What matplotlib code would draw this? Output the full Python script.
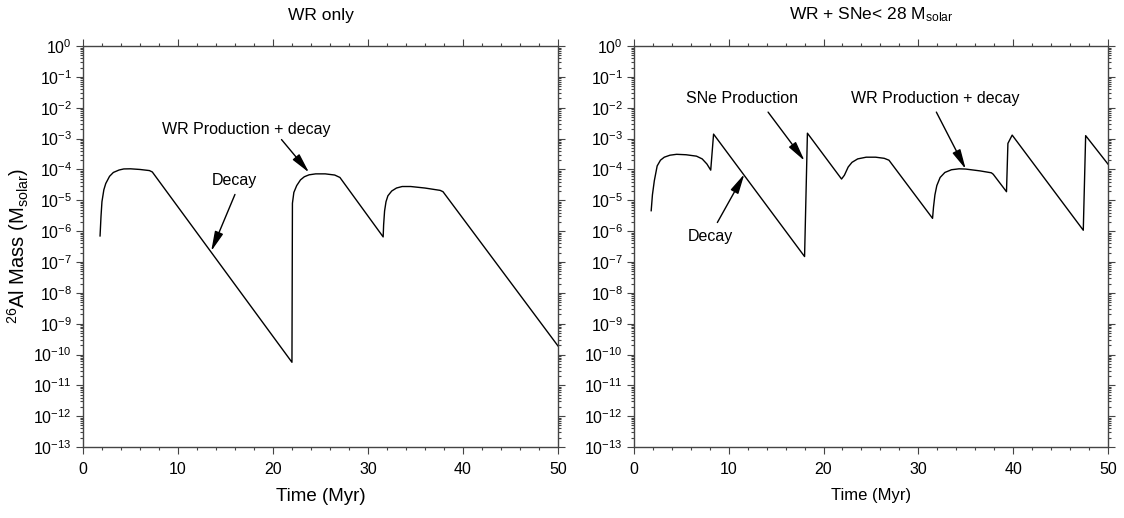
import matplotlib
matplotlib.use("Agg")
import matplotlib.pyplot as plt
from matplotlib.ticker import LogLocator, LogFormatterSciNotation, MultipleLocator, NullFormatter

plt.rcParams['font.family'] = ['Liberation Sans', 'DejaVu Sans']
plt.rcParams['mathtext.default'] = 'regular'

# 26Al mass, Wolf-Rayet winds only
t_wr = [1.8, 1.9, 2.0, 2.2, 2.4, 2.8, 3.2, 3.8, 4.3, 5.0, 6.0, 7.0, 7.3,
        22.0, 22.05, 22.2, 22.5, 22.9, 23.3, 23.8, 24.5, 25.5, 26.5, 27.05,
        31.6, 31.65, 31.75, 31.9, 32.1, 32.5, 33.0, 33.6, 34.5, 36.0, 37.6, 37.9,
        50.0]
m_wr = [7.0e-7, 3.0e-6, 9.0e-6, 2.2e-5, 3.5e-5, 6.0e-5, 8.0e-5, 9.6e-5, 1.04e-4, 1.05e-4, 1.0e-4, 9.2e-5, 8.3e-5,
        5.6e-11, 8.0e-6, 1.8e-5, 3.0e-5, 4.6e-5, 5.8e-5, 6.7e-5, 7.2e-5, 7.2e-5, 6.6e-5, 5.5e-5,
        6.5e-7, 1.6e-6, 4.5e-6, 9.0e-6, 1.4e-5, 2.0e-5, 2.5e-5, 2.8e-5, 2.8e-5, 2.5e-5, 2.1e-5, 1.9e-5,
        1.9e-10]

# 26Al mass, Wolf-Rayet winds plus supernovae below 28 Msun
t_sn = [1.82, 1.95, 2.15, 2.45, 2.8, 3.2, 3.8, 4.5, 5.5, 6.6, 7.2, 7.7, 8.1,
        8.4, 18.0, 18.3, 21.9,
        22.2, 22.6, 23.0, 23.6, 24.5, 25.5, 26.4, 26.9,
        31.5, 31.6, 31.75, 31.95, 32.3, 32.8, 33.5, 34.3, 35.0, 36.5, 37.7, 37.9,
        39.3, 39.45, 39.9, 47.4, 47.65, 50.0]
m_sn = [4.6e-6, 1.5e-5, 4.3e-5, 1.3e-4, 2.0e-4, 2.5e-4, 2.9e-4, 3.1e-4, 3.0e-4, 2.7e-4, 2.2e-4, 1.5e-4, 9.5e-5,
        1.4e-3, 1.5e-7, 1.5e-3, 4.9e-5,
        6.5e-5, 1.2e-4, 1.7e-4, 2.2e-4, 2.5e-4, 2.5e-4, 2.3e-4, 2.0e-4,
        2.6e-6, 6.0e-6, 1.5e-5, 3.0e-5, 5.5e-5, 8.0e-5, 9.8e-5, 1.05e-4, 1.03e-4, 9.0e-5, 7.8e-5, 7.0e-5,
        1.9e-5, 7.0e-4, 1.3e-3, 1.07e-6, 1.25e-3, 1.5e-4]

fig = plt.figure(figsize=(11.24, 5.18), dpi=100)
ax1 = fig.add_axes([0.0738, 0.137, 0.4226, 0.774])
ax2 = fig.add_axes([0.564, 0.137, 0.4217, 0.774])

arrow = dict(arrowstyle='-|>,head_length=1.0,head_width=0.22', color='black',
             lw=1.0, mutation_scale=12, shrinkA=0, shrinkB=0)


def style(ax, xlabel_size):
    ax.set_yscale('log')
    ax.set_xlim(0, 50)
    ax.set_ylim(1e-13, 1)
    ax.xaxis.set_major_locator(MultipleLocator(10))
    ax.xaxis.set_minor_locator(MultipleLocator(2))
    ax.yaxis.set_major_locator(LogLocator(base=10, numticks=20))
    ax.yaxis.set_minor_locator(LogLocator(base=10, subs=range(2, 10), numticks=20))
    ax.yaxis.set_major_formatter(LogFormatterSciNotation())
    ax.yaxis.set_minor_formatter(NullFormatter())
    ax.tick_params(which='both', direction='out', top=True, right=True,
                   labelsize=11.5, color='#444444', width=0.8)
    ax.tick_params(which='major', length=5, pad=3)
    ax.tick_params(which='minor', length=2.5)
    ax.tick_params(axis='x', which='major', pad=6)
    for s in ax.spines.values():
        s.set_linewidth(1.0)
        s.set_color('#444444')
    ax.set_xlabel('Time (Myr)', fontsize=xlabel_size, labelpad=8)


style(ax1, 13.5)
style(ax2, 12)

ax1.plot(t_wr, m_wr, color='black', lw=1.0)
ax2.plot(t_sn, m_sn, color='black', lw=1.0)

ax1.set_title('WR only', fontsize=12.5, pad=19)
ax2.set_title('WR + SNe< 28 M$_{solar}$', fontsize=12.5, pad=19)
ax1.set_ylabel('$^{26}$Al Mass (M$_{solar}$)', fontsize=14.5, labelpad=2)

ax1.text(17.2, 10**-2.72, 'WR Production + decay', ha='center', va='center', fontsize=11.5)
ax1.annotate('', xy=(23.8, 10**-4.1), xytext=(20.9, 10**-3.03), arrowprops=arrow)
ax1.text(15.9, 10**-4.36, 'Decay', ha='center', va='center', fontsize=11.5)
ax1.annotate('', xy=(13.5, 10**-6.65), xytext=(16.0, 10**-4.81), arrowprops=arrow)

ax2.text(11.4, 10**-1.69, 'SNe Production', ha='center', va='center', fontsize=11.5)
ax2.annotate('', xy=(18.0, 10**-3.72), xytext=(14.15, 10**-2.14), arrowprops=arrow)
ax2.text(31.8, 10**-1.69, 'WR Production + decay', ha='center', va='center', fontsize=11.5)
ax2.annotate('', xy=(35.0, 10**-3.99), xytext=(31.9, 10**-2.14), arrowprops=arrow)
ax2.text(8.1, 10**-6.17, 'Decay', ha='center', va='center', fontsize=11.5)
ax2.annotate('', xy=(11.65, 10**-4.15), xytext=(8.8, 10**-5.72), arrowprops=arrow)

fig.savefig('out.png', dpi=100, facecolor='white')
